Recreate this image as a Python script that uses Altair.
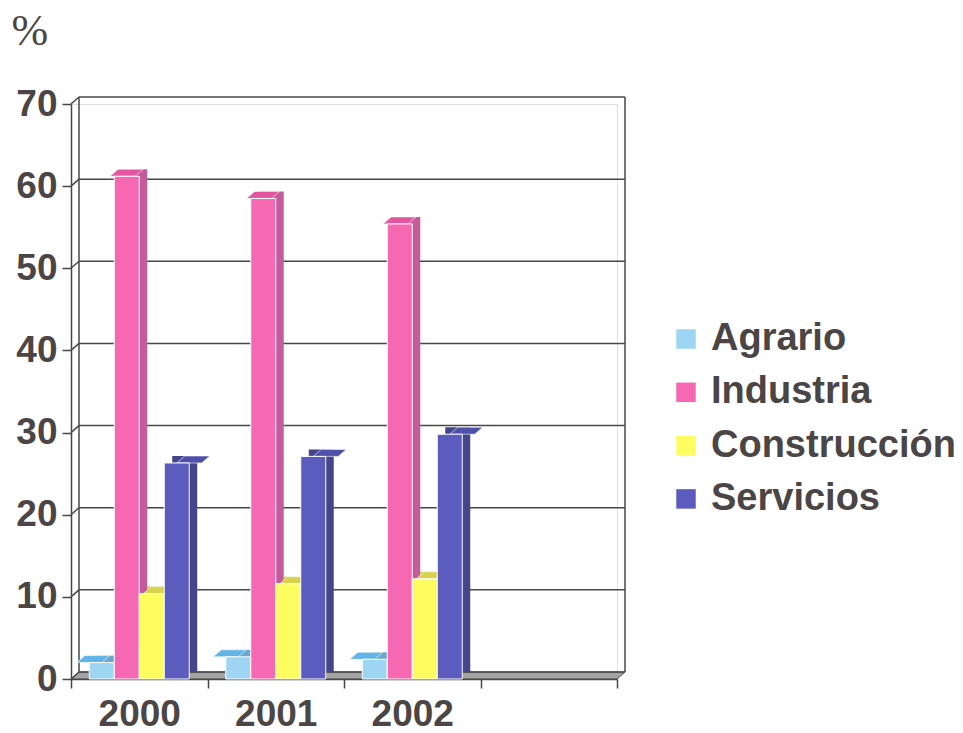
import altair as alt
import pandas as pd

# Share of each sector (%), by year
years = ["2000", "2001", "2002"]
slots = ["2000", "2001", "2002", " "]          # fourth slot left empty
sectors = ["Agrario", "Industria", "Construcción", "Servicios"]
agrario = [2.0, 2.7, 2.4]
industria = [61.2, 58.5, 55.4]
construccion = [10.4, 11.6, 12.2]
servicios = [26.3, 27.1, 29.8]
y_ticks = [0, 10, 20, 30, 40, 50, 60, 70]

front_colors = ["#9dd5f3", "#f768b3", "#fdfd60", "#5c5cbf"]
side_colors = ["#6aa9cc", "#c45c9c", "#c9c64a", "#45458b"]
top_colors = ["#62b3e6", "#e2559f", "#d6d24c", "#5050ab"]
text_color = "#4b4545"
line_color = "#474747"

rows = []
for sector, vals in zip(sectors, [agrario, industria, construccion, servicios]):
    for yr, v in zip(years, vals):
        rows.append({"year": yr, "sector": sector, "pct": v})
df = pd.DataFrame(rows)
ticks = pd.DataFrame({"t": y_ticks})
floor = pd.DataFrame({"t": [0]})
walls = pd.DataFrame({"top": [70], "bottom": [0]})

W, H = 546, 575      # plot area
DX, DY = 8, 7        # depth of the 3-D projection
BAR = 25             # bar width
GAP = (W / len(slots) - len(sectors) * BAR) / 2

x_axis = alt.Axis(
    title=None, labelAngle=0, tickBand="extent", tickSize=9, tickWidth=1.5,
    tickColor=line_color, domainColor=line_color, domainWidth=1.5,
    labelFont="Liberation Sans", labelFontSize=37, labelFontWeight="bold",
    labelColor=text_color, labelPadding=8,
)
y_axis = alt.Axis(
    title="%", titleAngle=0, titleAlign="left", titleBaseline="top",
    titleX=-60, titleY=-95, titleFont="Liberation Serif", titleFontSize=44,
    titleFontWeight="normal", titleColor=text_color,
    values=y_ticks, grid=False, tickSize=9, tickWidth=1.5, tickColor=line_color,
    domainColor=line_color, domainWidth=1.5,
    labelFont="Liberation Sans", labelFontSize=37, labelFontWeight="bold",
    labelColor=text_color, labelPadding=5,
)
x_scale = alt.Scale(domain=slots, paddingInner=0, paddingOuter=0)
y_scale = alt.Scale(domain=[0, 70], nice=False)

X = alt.X("year:N", scale=x_scale, axis=x_axis)
Y = alt.Y("pct:Q", scale=y_scale, axis=y_axis)
YT = alt.Y("t:Q", scale=y_scale, axis=y_axis)


def offset(shift):
    return alt.XOffset(
        "sector:N",
        scale=alt.Scale(domain=sectors, range=[GAP + shift, GAP + shift + 4 * BAR],
                        paddingInner=0, paddingOuter=0),
    )


# floor of the box
floor_layer = alt.Chart(floor).mark_point(
    shape=f"M0,0L{W},0L{W + DX},{-DY}L{DX},{-DY}Z", size=4, filled=True,
    fill="#a3a3a3", stroke=line_color, strokeWidth=1, opacity=1,
).encode(x=alt.value(0), y=YT)

# back wall gridlines
grid_layer = alt.Chart(ticks).mark_rule(
    yOffset=-DY, color=line_color, strokeWidth=1.5
).encode(y=YT, x=alt.value(DX), x2=alt.value(W + DX))

# links from the front axis ticks to the back wall
link_layer = alt.Chart(ticks).mark_rule(
    y2Offset=-DY, color=line_color, strokeWidth=1.5
).encode(y=YT, y2="t:Q", x=alt.value(0), x2=alt.value(DX))

# left and right edges of the back wall
wall_left = alt.Chart(walls).mark_rule(
    yOffset=-DY, y2Offset=-DY, color=line_color, strokeWidth=1.5
).encode(y=alt.Y("top:Q", scale=y_scale, axis=y_axis), y2="bottom:Q", x=alt.value(DX))
wall_right = alt.Chart(walls).mark_rule(
    yOffset=-DY, y2Offset=-DY, color=line_color, strokeWidth=1.5
).encode(y=alt.Y("top:Q", scale=y_scale, axis=y_axis), y2="bottom:Q", x=alt.value(W + DX))

# side faces of the bars
side_layer = alt.Chart(df).mark_bar(yOffset=-DY, y2Offset=-DY).encode(
    x=X, xOffset=offset(DX), y=Y, y2=alt.datum(0),
    color=alt.Color("sector:N", scale=alt.Scale(domain=sectors, range=side_colors), legend=None),
)

# top faces of the bars
h = BAR / 2
top_layer = alt.Chart(df).mark_point(
    shape=f"M{-h},0L{h},0L{h + DX},{-DY}L{-h + DX},{-DY}Z", size=4, filled=True,
    opacity=1, stroke="#ffffff", strokeWidth=0.6,
).encode(
    x=X, xOffset=offset(0), y=Y,
    fill=alt.Fill("sector:N", scale=alt.Scale(domain=sectors, range=top_colors), legend=None),
)

# front faces of the bars
front_layer = alt.Chart(df).mark_bar(stroke="#ffffff", strokeWidth=1).encode(
    x=X, xOffset=offset(0), y=Y,
    color=alt.Color(
        "sector:N", sort=sectors,
        scale=alt.Scale(domain=sectors, range=front_colors),
        legend=alt.Legend(
            title=None, orient="none", legendX=596, legendY=216,
            symbolType="square", symbolSize=380, symbolStrokeWidth=0,
            labelFont="Liberation Sans", labelFontSize=38, labelFontWeight="bold",
            labelColor=text_color, labelOffset=6, rowPadding=15.3, labelLimit=0,
        ),
    ),
)

chart = alt.layer(
    floor_layer, grid_layer, link_layer, wall_left, wall_right,
    side_layer, top_layer, front_layer,
).resolve_scale(
    xOffset="independent", color="independent", fill="independent"
).properties(
    width=W, height=H,
    autosize=alt.AutoSizeParams(type="none"),
    padding={"left": 71, "top": 104, "right": 963 - 71 - W, "bottom": 733 - 104 - H},
).configure_view(stroke=None).configure(background="#ffffff")

chart.save("out.html", embed_options={"renderer": "svg", "actions": False})
